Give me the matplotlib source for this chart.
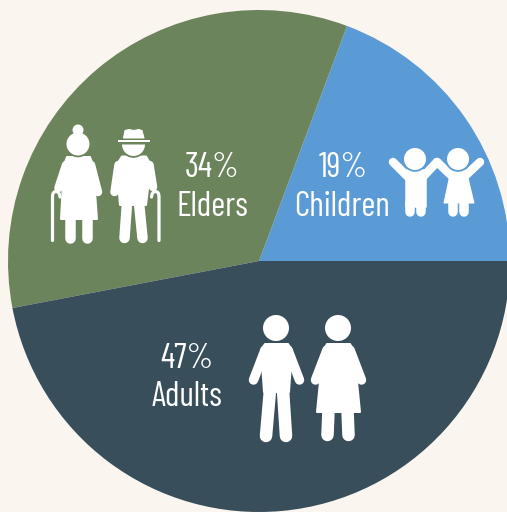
import matplotlib
matplotlib.use("Agg")
import matplotlib.pyplot as plt
from matplotlib import font_manager as fm
from matplotlib.patches import Circle, Polygon, Wedge, Rectangle, PathPatch
from matplotlib.path import Path

# ---- data ----
categories = ["Children", "Elders", "Adults"]
labels_pct = ["19%", "34%", "47%"]
slice_shares = [19.3, 33.7, 47.0]
slice_colors = ["#5B9BD5", "#6C845C", "#384E5A"]
background = "#FBF5EF"
WHITE = "#FFFFFF"

W, H = 507, 512
fig = plt.figure(figsize=(W / 100, H / 100), dpi=100, facecolor=background)

ax = fig.add_axes([0, 0, 1, 1])
ax.pie(slice_shares, colors=slice_colors, startangle=0, counterclock=True,
       center=(259, H - 261), radius=251, frame=True,
       wedgeprops=dict(linewidth=0))
ax.set_xlim(0, W)
ax.set_ylim(0, H)
ax.set_aspect("equal")
ax.axis("off")

ov = fig.add_axes([0, 0, 1, 1])
ov.set_xlim(0, W)
ov.set_ylim(H, 0)
ov.axis("off")
ov.patch.set_alpha(0)


def head(x, y, r, ring):
    ov.add_patch(Circle((x, y), r + 1.8, fc=ring, ec="none", zorder=5))
    ov.add_patch(Circle((x, y), r, fc=WHITE, ec="none", zorder=6))


def poly(pts, round_px=2.0):
    ov.add_patch(Polygon(pts, closed=True, fc=WHITE, ec=WHITE,
                         lw=round_px * 0.72, joinstyle="round", zorder=3))


def limb(p0, p1, w):
    ov.plot([p0[0], p1[0]], [p0[1], p1[1]], color=WHITE, lw=w * 0.72,
            solid_capstyle="round", zorder=3)


def cane(x, hook_dir):
    verts = [(x, 240.5), (x, 197), (x, 191.5), (x + hook_dir * 3.5, 191.5),
             (x + hook_dir * 7, 191.5), (x + hook_dir * 7.5, 197)]
    codes = [Path.MOVETO, Path.LINETO, Path.CURVE3, Path.CURVE3, Path.CURVE3, Path.CURVE3]
    ov.add_patch(PathPatch(Path(verts, codes), fc="none", ec=WHITE, lw=3.2 * 0.72,
                           capstyle="round", zorder=4))


DARK, GREEN, BLUE = slice_colors[2], slice_colors[1], slice_colors[0]

# ---- adults ----
head(276, 328, 13, DARK)
poly([(265, 344), (288, 344), (292, 350), (289, 392), (264, 392), (261, 350)])
limb((265, 350), (253.5, 380), 9.5)
limb((288, 350), (299.5, 380), 9.5)
limb((270, 390), (266, 436), 12.5)
limb((283, 390), (286, 436), 12.5)

head(338, 328, 13, DARK)
poly([(327, 344), (350, 344), (354, 351), (360, 412), (317, 412), (323, 351)])
limb((327, 350), (315.5, 380), 9.5)
limb((350, 350), (361.5, 380), 9.5)
limb((328.5, 410), (327.5, 435), 12.5)
limb((347.5, 410), (348.5, 435), 12.5)

# ---- elders ----
ov.add_patch(Circle((78, 130), 5.5, fc=WHITE, ec="none", zorder=6))
head(78, 144, 11.5, GREEN)
poly([(67, 157), (90, 157), (93, 165), (97, 219), (61, 219), (64, 165)])
limb((66, 165), (58.5, 188), 8.5)
limb((91, 165), (98, 192), 8.5)
limb((70, 220), (70, 238), 10.5)
limb((87, 220), (87, 238), 10.5)
cane(52.5, 1)

ov.add_patch(Wedge((133.5, 144.5), 13.3, 0, 180, fc=GREEN, ec="none", zorder=5))
ov.add_patch(Wedge((133.5, 144.5), 11.5, 0, 180, fc=WHITE, ec="none", zorder=6))
ov.add_patch(Rectangle((118, 139.5), 31.5, 2.6, fc=WHITE, ec="none", zorder=6))
poly([(125, 130.5), (129, 129.5), (134, 130.5), (139, 129.5), (142, 130.5), (144, 138), (123.5, 138)], 1)
poly([(122, 156.5), (146, 156.5), (151, 165), (146, 205), (120, 205), (116.5, 165)])
limb((118.5, 165), (114.5, 192), 8.5)
limb((149.5, 165), (153, 187), 8.5)
limb((127, 203), (124.5, 238), 10.5)
limb((139, 203), (142.5, 238), 10.5)
cane(159, -1)

# ---- children ----
head(415, 159, 11, BLUE)
poly([(406, 170), (426, 170), (426, 207), (406, 207)], 1.5)
limb((393, 162), (410, 179), 8.5)
limb((421, 179), (437, 162), 8.5)
limb((409.7, 203), (409.7, 212), 9.5)
limb((421.3, 203), (421.3, 212), 9.5)

head(458, 159, 11, BLUE)
poly([(451, 170), (466, 170), (474, 203), (444, 203)], 1)
limb((437, 162), (455, 179), 8.5)
limb((480, 162), (462, 179), 8.5)
limb((453, 204), (453, 212), 9.5)
limb((464, 204), (464, 212), 9.5)

# ---- labels ----
installed = {f.name for f in fm.fontManager.ttflist}
family = next((f for f in ["Barlow Condensed", "Roboto Condensed", "Archivo Narrow",
                           "Liberation Sans Narrow", "DejaVu Sans"] if f in installed))
pct_pos = [(343, 168), (212, 168), (187, 359)]
name_pos = [(342, 207), (212, 207), (187, 397)]
font = dict(family=family, color=WHITE, size=24.5, ha="center", va="center", zorder=7)
for name, pct, p, q in zip(categories, labels_pct, pct_pos, name_pos):
    ov.text(p[0], p[1], pct, **font)
    ov.text(q[0], q[1], name, **font)

fig.savefig("out.png", dpi=100, facecolor=background)
